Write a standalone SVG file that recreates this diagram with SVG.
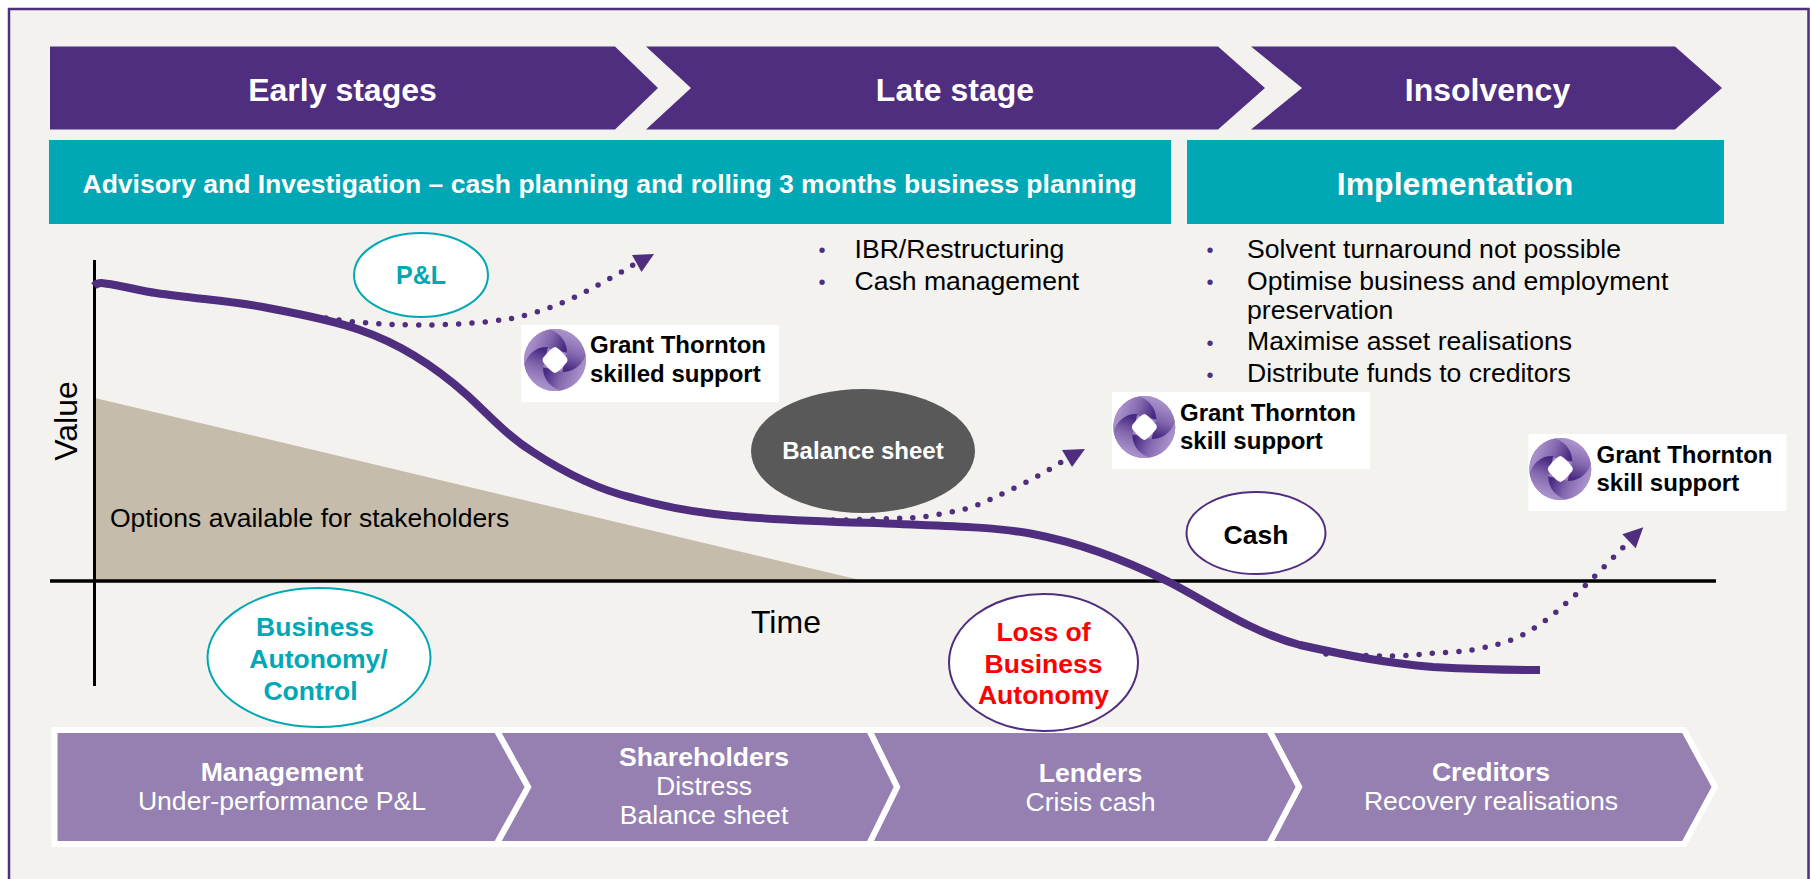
<svg xmlns="http://www.w3.org/2000/svg" xmlns:xlink="http://www.w3.org/1999/xlink" width="1811" height="879" viewBox="0 0 1811 879">
<style>
text{font-family:"Liberation Sans",Arial,sans-serif}
.b{font-weight:bold}
.m{text-anchor:middle}
.w{fill:#fff}
.banner{fill:#4F2D7F}
.teal{fill:#00A7B5}
.chev{fill:#9580B1;stroke:#fff;stroke-width:6}
.box{fill:#fff}
.dots{fill:none;stroke:#4F2D7F;stroke-width:5.500;stroke-linecap:round;stroke-dasharray:0 13.300}
.head{fill:#4F2D7F}
.bl{font-size:26.600px;fill:#000}
.bu{font-size:20px;fill:#4F2D7F}
.gt{font-size:24px;font-weight:bold;fill:#000}
.e1{fill:#fff;stroke:#00A7B5;stroke-width:2}
.e2{fill:#fff;stroke:#4F2D7F;stroke-width:2}
</style>
<defs>
<linearGradient id="bl" gradientUnits="userSpaceOnUse" x1="-22" y1="-24" x2="10" y2="-12">
<stop offset="0" stop-color="#A891CB"/><stop offset="0.5" stop-color="#8468AE"/><stop offset="1" stop-color="#482882"/>
</linearGradient>
<g id="logo">
<circle r="31" fill="#9A84BE"/>
<path id="blade" d="M-5-30.600C6-28 14-18 13-7L-8-12C-15-12-26-8-30.600 5A31 31 0 0 1-5-30.600Z" fill="url(#bl)"/>
<use xlink:href="#blade" transform="rotate(90)"/>
<use xlink:href="#blade" transform="rotate(180)"/>
<use xlink:href="#blade" transform="rotate(270)"/>
<path d="M0-13Q3-13 12-2Q13 0 12 2Q3 13 0 13Q-3 13-12 2Q-13 0-12-2Q-3-13 0-13Z" fill="#fff"/>
</g>
</defs>
<rect x="9" y="9" width="1799.5" height="900" fill="#F3F2EE" stroke="#4F2D7F" stroke-width="2.5"/>

<g id="stage-early"><path class="banner" d="M50 46.500H615L658 88 615 129.500H50Z"/><text class="b m w" x="342.500" y="101" font-size="32">Early stages</text></g>
<g id="stage-late"><path class="banner" d="M646 46.500H1218L1265 88 1218 129.500H646L691 88Z"/><text class="b m w" x="955" y="101" font-size="32">Late stage</text></g>
<g id="stage-insolvency"><path class="banner" d="M1251 46.500H1675L1722 88 1675 129.500H1251L1302 88Z"/><text class="b m w" x="1487.500" y="101" font-size="32">Insolvency</text></g>

<g id="advisory"><rect class="teal" x="49" y="140" width="1122" height="84"/><text class="b w" x="82.500" y="193" font-size="26.500">Advisory and Investigation – cash planning and rolling 3 months business planning</text></g>
<g id="implementation"><rect class="teal" x="1187" y="140" width="537" height="84"/><text class="b m w" x="1455" y="195" font-size="32">Implementation</text></g>

<g id="options-area"><path fill="#C5BCAC" d="M95 398L860 580H95Z"/><text x="110" y="527" font-size="26.500" fill="#000">Options available for stakeholders</text></g>

<g id="axes">
<path d="M94.500 260V686" stroke="#000" stroke-width="3" fill="none"/>
<path d="M50 581H1716" stroke="#000" stroke-width="3.500" fill="none"/>
<text class="m" transform="translate(77 421) rotate(-90)" font-size="32" fill="#000">Value</text>
<text x="751" y="633" font-size="32" fill="#000">Time</text>
</g>

<g id="chev-creditors"><path class="chev" d="M1269 730H1684L1715 787 1684 844H1269L1299 787Z"/><text class="m w" font-size="26.600"><tspan class="b" x="1491" y="781">Creditors</tspan><tspan x="1491" y="810">Recovery realisations</tspan></text></g>
<g id="chev-lenders"><path class="chev" d="M869 730H1269L1299 787 1269 844H869L897 787Z"/><text class="m w" font-size="26.600"><tspan class="b" x="1090.500" y="782">Lenders</tspan><tspan x="1090.500" y="811">Crisis cash</tspan></text></g>
<g id="chev-shareholders"><path class="chev" d="M496.500 730H869L897 787 869 844H496.500L528 787Z"/><text class="m w" font-size="26.600"><tspan class="b" x="704" y="766">Shareholders</tspan><tspan x="704" y="795">Distress</tspan><tspan x="704" y="824">Balance sheet</tspan></text></g>
<g id="chev-management"><path class="chev" d="M54.500 730H496.500L528 787 496.500 844H54.500Z"/><text class="m w" font-size="26.600"><tspan class="b" x="282" y="781">Management</tspan><tspan x="282" y="810">Under-performance P&amp;L</tspan></text></g>

<g id="connectors">
<path class="dots" d="M326 318C345 321.500 380 325 418.700 325C450 325 485 323 512 318.300C535 314 560 304 574.600 297.300C595 287 615 276 633 265"/>
<path class="head" d="M632 255L654 254 641.500 272Z"/>
<path class="dots" d="M833 520C860 520 890 518.500 913.300 517.700C922 517 931 516 940 514C950 512 958 511 966 508.700C975 506 983 503 991 499C1015 488 1040 476 1063 461"/>
<path class="head" d="M1062 450L1085 449 1072 467Z"/>
<path class="dots" d="M1326 654C1350 655 1372 656 1392.700 656C1407 656 1420 654.500 1432.700 653.300C1446 652.200 1460 652 1472.300 650C1486 647 1498 645 1511 640C1524 635 1535 628 1545.700 620.300C1557 612 1566 603 1576 594.300C1586 585 1595 576 1604.700 566.300L1623.300 547.300"/>
<path class="head" d="M1622.300 534.300L1643.300 527.300 1635.700 548.300Z"/>
<path fill="none" stroke="#4F2D7F" stroke-width="8" d="M94 286Q98 282 105 283.500C125 286 140 291 156 293C195 299 235 301 268 308C300 314 335 321 360 330C395 342 430 362 467 395C490 416 505 434 533 452C565 473 600 490 633 498C665 507 700 513 733 516C790 521 845 522 900 524C950 526 995 527 1033 534C1080 543 1125 560 1167 581C1205 600 1250 632 1300 645C1345 655 1385 663 1433 667C1470 669 1505 670 1540 670"/>
</g>

<g id="pl"><ellipse class="e1" cx="421" cy="275" rx="67" ry="42"/><text class="b m" x="421" y="284" font-size="25" fill="#00A7B5">P&amp;L</text></g>
<g id="balance"><ellipse cx="863" cy="451" rx="112" ry="62" fill="#595959"/><text class="b m w" x="863" y="459" font-size="24">Balance sheet</text></g>
<g id="cash"><ellipse class="e2" cx="1256" cy="533" rx="69.500" ry="41"/><text class="b m" x="1256" y="544" font-size="26.500" fill="#000">Cash</text></g>
<g id="autonomy"><ellipse class="e1" cx="319" cy="657.500" rx="111.500" ry="69.500"/><text class="b m" font-size="26.500" fill="#00A7B5"><tspan x="315" y="636">Business</tspan><tspan x="318.500" y="668">Autonomy/</tspan><tspan x="310.500" y="700">Control</tspan></text></g>
<g id="loss"><ellipse class="e2" cx="1043.500" cy="662.500" rx="94.500" ry="68.500"/><text class="b m" font-size="26.500" fill="#F00"><tspan x="1043.500" y="641">Loss of</tspan><tspan x="1043.500" y="673">Business</tspan><tspan x="1043.500" y="704">Autonomy</tspan></text></g>

<g id="list-late">
<text class="bu" x="818.500" y="256.500">•</text><text class="bl" x="854.500" y="258">IBR/Restructuring</text>
<text class="bu" x="818.500" y="288.500">•</text><text class="bl" x="854.500" y="290">Cash management</text>
</g>
<g id="list-insolvency">
<text class="bu" x="1206.500" y="256.500">•</text><text class="bl" x="1247" y="258">Solvent turnaround not possible</text>
<text class="bu" x="1206.500" y="288.500">•</text><text class="bl" x="1247" y="290">Optimise business and employment</text>
<text class="bl" x="1247" y="319">preservation</text>
<text class="bu" x="1206.500" y="349.500">•</text><text class="bl" x="1247" y="350">Maximise asset realisations</text>
<text class="bu" x="1206.500" y="381.500">•</text><text class="bl" x="1247" y="382">Distribute funds to creditors</text>
</g>

<g id="gt1"><rect class="box" x="521" y="325" width="258" height="77"/><use xlink:href="#logo" x="555" y="360"/><text class="gt" x="590" y="353">Grant Thornton</text><text class="gt" x="590" y="382">skilled support</text></g>
<g id="gt2"><rect class="box" x="1112" y="392" width="258" height="77"/><use xlink:href="#logo" x="1144.300" y="427"/><text class="gt" x="1180" y="421">Grant Thornton</text><text class="gt" x="1180" y="449">skill support</text></g>
<g id="gt3"><rect class="box" x="1528.500" y="434" width="258" height="77"/><use xlink:href="#logo" x="1560.300" y="469"/><text class="gt" x="1596.500" y="463">Grant Thornton</text><text class="gt" x="1596.500" y="491">skill support</text></g>
</svg>
